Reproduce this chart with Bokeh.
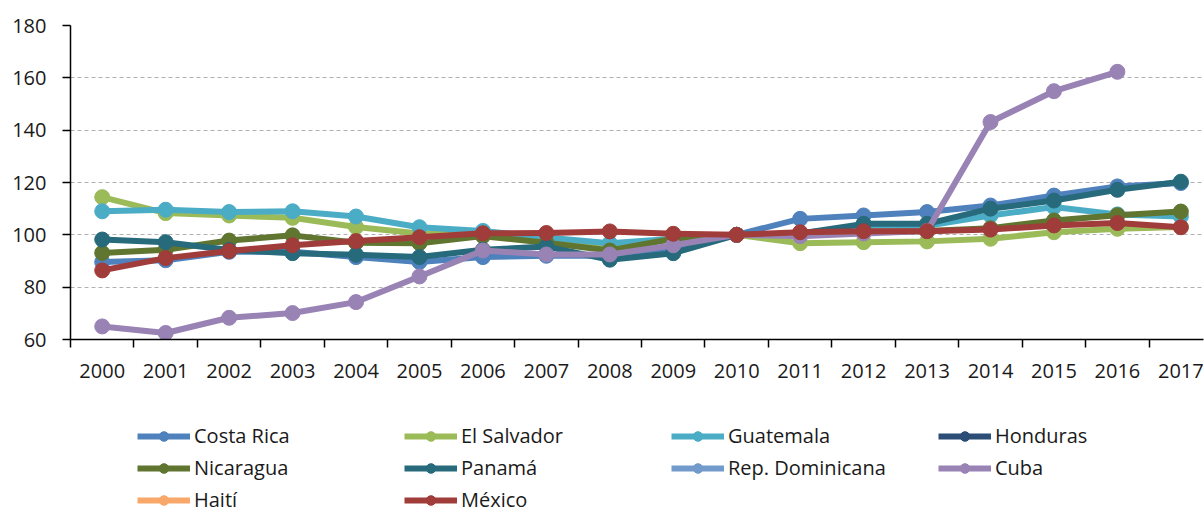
from bokeh.plotting import figure
from bokeh.models import FixedTicker, Legend, LegendItem, Range1d
from bokeh.layouts import column
from bokeh.embed import file_html
from bokeh.resources import INLINE

years = list(range(2000, 2018))
year_labels = [str(y) for y in years]

costa_rica = [89.6, 90.3, 93.5, 93.5, 91.5, 89.6, 91.5, 92.0, 92.0, 95.0, 100.0, 106.1, 107.4, 108.7, 111.2, 115.0, 118.5, 119.8]
el_salvador = [114.4, 108.3, 107.4, 106.5, 103.0, 100.5, 100.0, 98.0, 94.5, 98.5, 100.0, 96.8, 97.2, 97.5, 98.5, 101.0, 102.3, 103.0]
guatemala = [109.0, 109.6, 108.7, 109.0, 107.0, 102.9, 101.5, 99.0, 96.8, 98.5, 100.0, 100.5, 103.5, 103.5, 107.4, 110.6, 107.8, 107.0]
honduras = [None] * 18
nicaragua = [93.1, 94.3, 97.8, 99.8, 97.0, 96.8, 99.5, 97.0, 94.0, 98.5, 100.0, 100.5, 101.0, 101.5, 102.5, 105.5, 107.5, 108.9]
panama = [98.2, 97.2, 94.2, 93.0, 92.4, 91.5, 94.3, 95.5, 90.5, 93.0, 100.0, 100.5, 104.2, 104.2, 110.0, 113.1, 117.2, 120.3]
rep_dominicana = [None] * 18
cuba = [65.0, 62.5, 68.3, 70.1, 74.3, 84.1, 94.0, 92.5, 92.5, 96.0, 100.0, 99.5, 100.5, 101.5, 143.1, 154.9, 162.3, None]
haiti = [None] * 18
mexico = [86.4, 91.1, 93.8, 96.0, 97.6, 99.1, 100.6, 100.7, 101.3, 100.4, 100.0, 101.0, 101.4, 101.4, 102.0, 103.6, 104.5, 102.9]

series_names = ["Costa Rica", "El Salvador", "Guatemala", "Honduras", "Nicaragua", "Panamá",
                "Rep. Dominicana", "Cuba", "Haití", "México"]
series_values = [costa_rica, el_salvador, guatemala, honduras, nicaragua, panama,
                 rep_dominicana, cuba, haiti, mexico]
series_colors = ["#4F81BD", "#9BBB59", "#4BACC6", "#2C4D75", "#5F7530", "#276A7C",
                 "#729ACA", "#9983B5", "#F9A869", "#A03C3A"]

y_ticks = [60, 80, 100, 120, 140, 160, 180]

FONT = "Open Sans"
FS = "20px"
TXT = "#1a1a1a"

p = figure(frame_width=1133, frame_height=314, output_backend="svg", toolbar_location=None,
           x_range=Range1d(1999.5, 2017.357), y_range=Range1d(60, 180),
           min_border_left=70, min_border_right=1, min_border_top=25, min_border_bottom=66)
p.outline_line_color = None
p.background_fill_color = "white"
p.border_fill_color = "white"

for name, vals, col in zip(series_names, series_values, series_colors):
    xs = [y for y, v in zip(years, vals) if v is not None]
    ys = [v for v in vals if v is not None]
    p.line(xs, ys, line_color=col, line_width=6, line_join="round")
    p.scatter(xs, ys, marker="circle", size=15, fill_color=col, line_color=col)

# x axis
p.xaxis.ticker = FixedTicker(ticks=years, minor_ticks=[y - 0.5 for y in years] + [2017.5])
p.xaxis.major_label_overrides = {y: s for y, s in zip(years, year_labels)}
p.xaxis.major_tick_out = 0
p.xaxis.major_tick_in = 0
p.xaxis.minor_tick_out = 8
p.xaxis.minor_tick_in = 0
p.xaxis.minor_tick_line_color = "black"
p.xaxis.minor_tick_line_width = 1.5
p.xaxis.axis_line_color = "black"
p.xaxis.axis_line_width = 1.5
p.xaxis.major_label_standoff = 16
p.xaxis.major_label_text_font = FONT
p.xaxis.major_label_text_font_size = FS
p.xaxis.major_label_text_color = TXT

# y axis
p.yaxis.ticker = FixedTicker(ticks=y_ticks)
p.yaxis.major_tick_out = 8
p.yaxis.major_tick_in = 0
p.yaxis.minor_tick_out = 0
p.yaxis.minor_tick_in = 0
p.yaxis.major_tick_line_color = "black"
p.yaxis.major_tick_line_width = 1.5
p.yaxis.axis_line_color = "black"
p.yaxis.axis_line_width = 1.5
p.yaxis.major_label_standoff = 16
p.yaxis.major_label_text_font = FONT
p.yaxis.major_label_text_font_size = FS
p.yaxis.major_label_text_color = TXT

p.xgrid.grid_line_color = None
p.ygrid.ticker = FixedTicker(ticks=y_ticks)
p.ygrid.grid_line_color = "#b0b0b0"
p.ygrid.grid_line_dash = "4 3"
p.ygrid.grid_line_width = 1

# legend strip below the chart; its stand-in glyphs sit outside the visible range
lg = figure(width=1204, height=108, output_backend="svg", toolbar_location=None,
            x_range=Range1d(0, 1), y_range=Range1d(0, 1),
            min_border_left=0, min_border_right=0, min_border_top=0, min_border_bottom=0)
lg.outline_line_color = None
lg.axis.visible = False
lg.grid.visible = False

offscreen = [-5.0]
items = []
for name, col in zip(series_names, series_colors):
    r1 = lg.line(offscreen, offscreen, line_color=col, line_width=6)
    r2 = lg.scatter(offscreen, offscreen, marker="circle", size=13, fill_color=col, line_color=col)
    items.append(LegendItem(label=name, renderers=[r1, r2]))

legend = Legend(items=items, orientation="horizontal", ncols=4, location=(67, 0),
                glyph_width=53, glyph_height=24, label_height=24, label_width=205,
                label_standoff=4, spacing=5, padding=0, margin=0,
                border_line_color=None, background_fill_alpha=0,
                label_text_font=FONT, label_text_font_size=FS, label_text_color=TXT)
lg.add_layout(legend, "center")

layout = column(p, lg, spacing=0)
open("out.html", "w").write(file_html(layout, INLINE))
